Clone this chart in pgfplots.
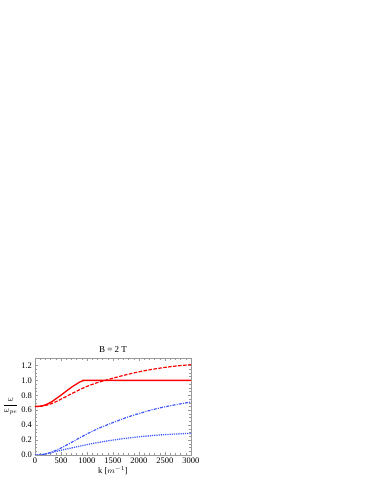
\documentclass[border=0pt]{standalone}
\usepackage{pgfplots}
\pgfplotsset{compat=1.18}
\usepackage{fontspec}
\setmainfont{Liberation Serif}
\definecolor{myblue}{rgb}{0.25,0.35,1}
\definecolor{framegray}{rgb}{0.6,0.6,0.6}
\begin{document}
\fontsize{8.5}{10}\selectfont
\begin{tikzpicture}
\path[use as bounding box] (0,0) rectangle (374pt,484pt);
\begin{axis}[
  at={(35pt,29pt)}, anchor=south west,
  scale only axis, width=156pt, height=97pt,
  xmin=0, xmax=3000, ymin=0, ymax=1.3,
  xtick={0,500,...,3000}, minor x tick num=4,
  ytick={0,0.2,...,1.2}, minor y tick num=3,
  yticklabel style={/pgf/number format/fixed,/pgf/number format/fixed zerofill,/pgf/number format/precision=1},
  xticklabel style={/pgf/number format/1000 sep={}},
  /pgf/number format/assume math mode=true,
  tick align=inside,
  major tick length=3pt, minor tick length=1.6pt,
  axis line style={framegray},
  every tick/.style={framegray, line width=0.4pt},
  tick label style={font=\fontsize{8.5}{10}\selectfont, black},
  title={B = 2 T}, title style={font=\fontsize{9}{10}\selectfont, yshift=-4pt},
  xlabel={k [$m^{-1}$]}, xlabel style={font=\fontsize{8.5}{10}\selectfont, yshift=3pt},
  ylabel={$\displaystyle\frac{\omega}{\omega_{pe}}$},
  every axis y label/.style={at={(axis description cs:-0.155,0.5)}, anchor=center, font=\fontsize{8.5}{10}\selectfont},
]
\addplot[red, line width=1.3pt, smooth, tension=0.5] coordinates {
(0,0.65)(100,0.655)(200,0.672)(300,0.705)(400,0.752)(500,0.803)(600,0.855)(700,0.907)(800,0.952)(860,0.978)(910,0.993)(960,0.999)(1050,1.0)(3000,1.0)};
\addplot[red, line width=1.2pt, dash pattern=on 3.5pt off 1.5pt, smooth] coordinates {
(0,0.65)(100,0.652)(200,0.664)(300,0.684)(400,0.713)(500,0.748)(600,0.784)(700,0.82)(800,0.855)(900,0.889)(1000,0.92)(1100,0.946)(1200,0.97)(1350,1.0)(1500,1.03)(1750,1.075)(2000,1.115)(2250,1.147)(2500,1.174)(2750,1.195)(3000,1.21)};
\addplot[myblue, line width=1.2pt, dash pattern=on 3pt off 1.2pt on 1pt off 1.2pt, smooth] coordinates {
(0,0)(100,0.003)(200,0.014)(300,0.034)(400,0.062)(500,0.094)(600,0.13)(700,0.168)(800,0.207)(900,0.246)(1000,0.283)(1100,0.316)(1250,0.365)(1500,0.435)(1750,0.5)(2000,0.556)(2250,0.605)(2500,0.646)(2750,0.68)(3000,0.71)};
\addplot[myblue, line width=1.3pt, dash pattern=on 1.2pt off 1pt, smooth] coordinates {
(0,0)(100,0.003)(200,0.012)(300,0.028)(400,0.047)(500,0.063)(600,0.079)(700,0.094)(800,0.109)(900,0.124)(1000,0.139)(1100,0.153)(1250,0.172)(1500,0.2)(1750,0.224)(2000,0.244)(2250,0.26)(2500,0.273)(2750,0.283)(3000,0.29)};
\end{axis}
\end{tikzpicture}
\end{document}
